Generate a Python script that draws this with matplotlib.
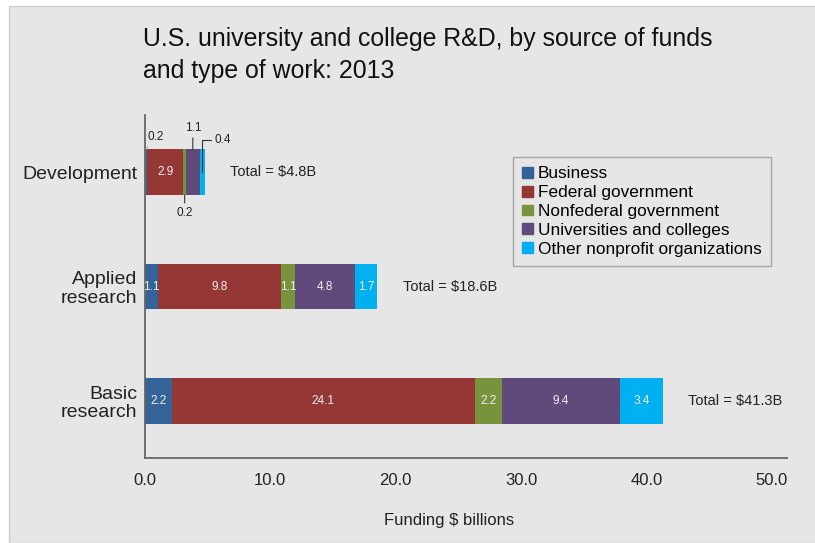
import matplotlib.pyplot as plt
import matplotlib.patches as mpatches
import numpy as np

plt.rcParams['font.family'] = ['Liberation Sans', 'DejaVu Sans']

work_types = ["Basic\nresearch", "Applied\nresearch", "Development"]
sources = ["Business", "Federal government", "Nonfederal government",
           "Universities and colleges", "Other nonprofit organizations"]
colors = ["#34639a", "#953735", "#77933c", "#604a7b", "#00b0f0"]

# funding in $ billions, one list per source (Basic, Applied, Development)
business = [2.2, 1.1, 0.2]
federal = [24.1, 9.8, 2.9]
nonfederal = [2.2, 1.1, 0.2]
universities = [9.4, 4.8, 1.1]
other_nonprofit = [3.4, 1.7, 0.4]
totals = [41.3, 18.6, 4.8]

series = [business, federal, nonfederal, universities, other_nonprofit]

fig = plt.figure(figsize=(8.15, 5.43), dpi=100)
fig.patch.set_facecolor("white")
bg = mpatches.Rectangle((9 / 815, 0), 1, 1 - 6 / 543, transform=fig.transFigure,
                        facecolor="#e6e6e6", edgecolor="#cfcfcf", lw=1, zorder=-10)
fig.patches.append(bg)

ax = fig.add_axes([144.5 / 815, 1 - 458 / 543, (787 - 144.5) / 815, (458 - 115) / 543])
ax.set_facecolor("none")
ax.set_zorder(2)

y = np.arange(len(work_types))
left = np.zeros(len(work_types))
for vals, name, c in zip(series, sources, colors):
    ax.barh(y, vals, left=left, height=0.4, color=c, label=name)
    for i, v in enumerate(vals):
        if i < 2:
            ax.text(left[i] + v / 2, y[i], f"{v:.1f}", ha="center", va="center",
                    color="#f0f0f0", fontsize=8.5)
    left = left + np.array(vals)

# Development labels sit outside the narrow segments, with leader lines
dev = 2
seg_left = np.cumsum([0] + [s[dev] for s in series])[:-1]
mid = [seg_left[k] + series[k][dev] / 2 for k in range(len(series))]
ax.text(mid[1], y[dev], f"{federal[dev]:.1f}", ha="center", va="center",
        color="#f0f0f0", fontsize=8.5)
lbl = dict(fontsize=8.5, color="#222222", ha="center", va="center",
           textcoords="offset points")
ax.annotate(f"{business[dev]:.1f}", xy=(mid[0], y[dev] + 0.2), xytext=(7, 9),
            arrowprops=dict(arrowstyle="-", color="#b5b5b5", lw=0.8,
                            shrinkA=1, shrinkB=0), **lbl)
ax.annotate(f"{nonfederal[dev]:.1f}", xy=(mid[2], y[dev] - 0.2), xytext=(0, -13),
            arrowprops=dict(arrowstyle="-", color="#333333", lw=0.8,
                            shrinkA=1, shrinkB=0), **lbl)
ax.annotate(f"{universities[dev]:.1f}", xy=(mid[3], y[dev] + 0.2), xytext=(0, 15.5),
            arrowprops=dict(arrowstyle="-", color="#333333", lw=0.8,
                            shrinkA=1, shrinkB=0), **lbl)
ax.annotate(f"{other_nonprofit[dev]:.1f}", xy=(mid[4], y[dev]), xytext=(15, 23.5),
            arrowprops=dict(arrowstyle="-", color="#333333", lw=0.8,
                            shrinkA=1, shrinkB=0,
                            connectionstyle="angle,angleA=0,angleB=90,rad=0"),
            **lbl)

for i, t in enumerate(totals):
    ax.annotate(f"Total = ${t}B", xy=(t, y[i]), xytext=(18, 0),
                textcoords="offset points", ha="left", va="center",
                fontsize=10.5, color="#222222")

ax.set_xlim(0, 51.2)
ax.set_ylim(-0.5, 2.5)
ax.set_xticks(np.arange(0, 51, 10))
ax.set_xticklabels([f"{v:.1f}" for v in np.arange(0, 51, 10)])
ax.set_yticks(y)
ax.set_yticklabels(work_types)
ax.tick_params(axis="y", length=0, pad=5, labelsize=14, labelcolor="#222222")
ax.tick_params(axis="x", length=0, pad=11, labelsize=12, labelcolor="#222222")
for t in ax.get_yticklabels():
    t.set_linespacing(1.1)
for s in ["top", "right"]:
    ax.spines[s].set_visible(False)
for s in ["left", "bottom"]:
    ax.spines[s].set_color("#666666")
    ax.spines[s].set_linewidth(1.3)

handles = [mpatches.Patch(color=c, label=n) for n, c in zip(sources, colors)]
leg = ax.legend(handles=handles, loc="upper left",
                bbox_to_anchor=(513 / 815, 1 - 157 / 543),
                bbox_transform=fig.transFigure, fontsize=12.4,
                frameon=True, fancybox=False, edgecolor="#a6a6a6",
                facecolor="#e6e6e6", framealpha=1, handlelength=0.6,
                handleheight=0.6, handletextpad=0.3, labelspacing=0.22,
                borderpad=0.55, borderaxespad=0)
leg.get_frame().set_linewidth(1)

fig.text(143 / 815, 1 - 55 / 543,
         "U.S. university and college R&D, by source of funds\nand type of work: 2013",
         ha="left", va="center", fontsize=17.9, color="#111111", linespacing=1.38)
fig.text(449 / 815, 1 - 521 / 543, "Funding $ billions", ha="center", va="center",
         fontsize=12, color="#222222")

fig.savefig("out.png", dpi=100)
